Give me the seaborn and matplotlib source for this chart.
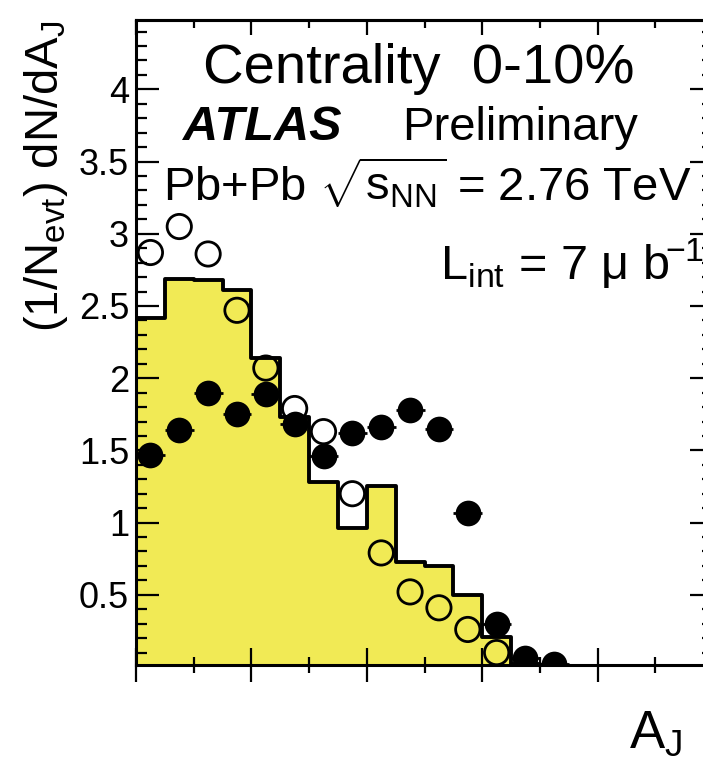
import numpy as np
import matplotlib
matplotlib.use("Agg")
import matplotlib.pyplot as plt
from matplotlib.ticker import MultipleLocator, FixedLocator, FormatStrFormatter, NullFormatter
import seaborn as sns

# ---- data ----
bin_edges = [0.00, 0.05, 0.10, 0.15, 0.20, 0.25, 0.30, 0.35, 0.40, 0.45,
             0.50, 0.55, 0.60, 0.65, 0.70, 0.75, 0.80, 0.85, 0.90, 0.95, 1.00]
mc_values = [2.42, 2.69, 2.68, 2.61, 2.14, 1.73, 1.28, 0.96, 1.25, 0.73,
             0.70, 0.50, 0.21, 0.02, 0.01, 0.0, 0.0, 0.0, 0.0, 0.0]

pp_x = [0.025, 0.075, 0.125, 0.175, 0.225, 0.275, 0.325, 0.375, 0.425,
        0.475, 0.525, 0.575, 0.625]
pp_y = [2.87, 3.05, 2.86, 2.47, 2.07, 1.79, 1.63, 1.20, 0.79,
        0.52, 0.41, 0.26, 0.10]

pbpb_x = [0.025, 0.075, 0.125, 0.175, 0.225, 0.275, 0.325, 0.375, 0.425,
          0.475, 0.525, 0.575, 0.625, 0.675, 0.725]
pbpb_y = [1.47, 1.64, 1.90, 1.75, 1.89, 1.68, 1.46, 1.62, 1.665,
          1.78, 1.65, 1.065, 0.30, 0.06, 0.02]

yticks = [0.5, 1.0, 1.5, 2.0, 2.5, 3.0, 3.5, 4.0]

# ---- style ----
sns.set_theme(style="ticks")
plt.rcParams['font.family'] = ['Liberation Sans', 'DejaVu Sans']
plt.rcParams['mathtext.fontset'] = 'custom'
plt.rcParams['mathtext.rm'] = 'Liberation Sans'
plt.rcParams['mathtext.it'] = 'Liberation Sans:italic'
plt.rcParams['mathtext.bf'] = 'Liberation Sans:bold'
plt.rcParams['mathtext.sf'] = 'Liberation Sans'
plt.rcParams['axes.axisbelow'] = False

W, H = 703, 763
fig = plt.figure(figsize=(W / 100, H / 100), dpi=100)
fig.patch.set_facecolor('white')

L, R, T, B = 136, 713, 20, 665
ax = fig.add_axes([L / W, 1 - B / H, (R - L) / W, (B - T) / H])
ax.set_facecolor('white')
ax.set_axisbelow(False)

yellow = '#F1EA55'
centers = [(a + b) / 2 for a, b in zip(bin_edges[:-1], bin_edges[1:])]
sns.histplot(x=centers, weights=mc_values, bins=bin_edges, element='step',
             fill=True, facecolor=yellow, edgecolor='black', linewidth=2.8,
             alpha=1.0, ax=ax, zorder=1)

# p+p open circles
ax.scatter(pp_x, pp_y, s=17.5 ** 2, facecolors='none', edgecolors='black',
           linewidths=2.0, zorder=3)

# Pb+Pb filled circles with x error bars
ax.errorbar(pbpb_x, pbpb_y, xerr=0.025, fmt='none', ecolor='black',
            elinewidth=2.0, capsize=0, zorder=4)
sns.scatterplot(x=pbpb_x, y=pbpb_y, s=18.5 ** 2, color='black',
                edgecolor='black', linewidth=0, ax=ax, zorder=5)

ax.set_xlim(0, 1.0)
ax.set_ylim(0.014, 4.48)
ax.set_xlabel('')
ax.set_ylabel('')

for sp in ax.spines.values():
    sp.set_visible(True)
    sp.set_color('black')
    sp.set_linewidth(2.2)
    sp.set_zorder(6)

ax.yaxis.set_major_locator(FixedLocator(yticks))
ax.yaxis.set_minor_locator(MultipleLocator(0.1))
ax.yaxis.set_major_formatter(FormatStrFormatter('%g'))
ax.yaxis.set_minor_formatter(NullFormatter())
ax.xaxis.set_major_locator(MultipleLocator(0.2))
ax.xaxis.set_minor_locator(MultipleLocator(0.1))
ax.xaxis.set_major_formatter(NullFormatter())
ax.xaxis.set_minor_formatter(NullFormatter())

ax.tick_params(axis='y', which='major', direction='in', left=True, right=True,
               width=1.6, length=16.5, color='black', labelsize=26, pad=5,
               labelcolor='black')
ax.tick_params(axis='y', which='minor', direction='in', left=True, right=True,
               width=1.6, length=8, color='black')
ax.tick_params(axis='x', which='major', direction='inout', bottom=True,
               top=False, width=1.6, length=24, color='black', labelbottom=False)
ax.tick_params(axis='x', which='minor', direction='inout', bottom=True,
               top=False, width=1.6, length=11, color='black')

# top ticks (inward only)
sec = ax.secondary_xaxis('top')
sec.xaxis.set_major_locator(MultipleLocator(0.2))
sec.xaxis.set_minor_locator(MultipleLocator(0.1))
sec.xaxis.set_major_formatter(NullFormatter())
sec.xaxis.set_minor_formatter(NullFormatter())
sec.tick_params(which='major', direction='in', width=1.6, length=11, color='black')
sec.tick_params(which='minor', direction='in', width=1.6, length=5.5, color='black')
sec.spines['top'].set_linewidth(2.2)

def fx(px):
    return px / W

def fy(py):
    return 1 - py / H

fig.text(fx(203), fy(83), 'Centrality  0-10%', fontsize=40.5, ha='left',
         va='baseline', color='black')
fig.text(fx(183), fy(140), 'ATLAS', fontsize=35, fontweight='bold',
         fontstyle='italic', ha='left', va='baseline', color='black')
fig.text(fx(402), fy(140), 'Preliminary', fontsize=34, ha='left',
         va='baseline', color='black')
fig.text(fx(163), fy(200), r'Pb+Pb $\sqrt{\mathrm{s}_{\mathrm{NN}}}$ = 2.76 TeV',
         fontsize=34, ha='left', va='baseline', color='black')
fig.text(fx(440), fy(280), r'L$_{\mathrm{int}}$ = 7 μ b$^{\!\mathrm{-1}}$',
         fontsize=35, ha='left', va='baseline', color='black')
fig.text(fx(682), fy(748), r'A$_{\mathrm{J}}$', fontsize=38, ha='right',
         va='baseline', color='black')
fig.text(fx(22), fy(20), r'(1/N$_{\mathrm{evt}}$) dN/dA$_{\mathrm{J}}$',
         fontsize=34, rotation=90, ha='left', va='top', color='black')

fig.savefig('out.png', dpi=100, facecolor='white')
